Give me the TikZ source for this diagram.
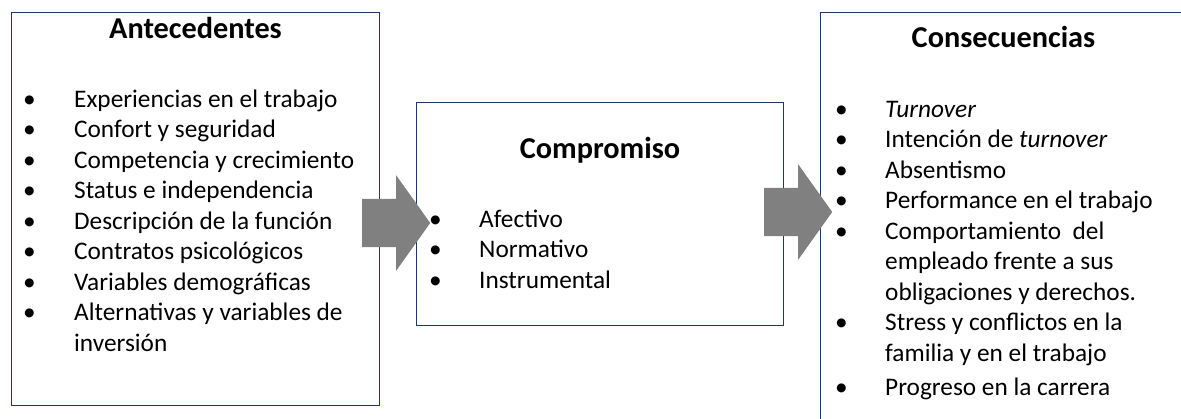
\documentclass[tikz,border=0pt]{standalone}
\usepackage{fontspec}
\setmainfont{Carlito}
\usetikzlibrary{positioning, calc, shapes.arrows}
\definecolor{boxblue}{RGB}{32,56,100}
\definecolor{arrowgray}{RGB}{128,128,128}
\tikzstyle{Box} = [
	rectangle,
	draw=boxblue,
	line width=1pt,
	inner sep=0pt,
	anchor=north west
	]
\tikzstyle{Title} = [inner sep=0pt, anchor=base, font=\fontsize{30.3}{36}\selectfont\bfseries]
\tikzstyle{List} = [inner sep=0pt, anchor=base west, font=\fontsize{25.3}{30.5}\selectfont]
\tikzstyle{BigArrow} = [
	single arrow,
	fill=arrowgray,
	inner xsep=0pt,
	inner ysep=24pt,
	minimum height=68pt,
	single arrow head extend=23.5pt,
	single arrow tip angle=109,
	anchor=tail
	]

\begin{document}
\begin{tikzpicture}[x=1pt, y=-1pt]
 \useasboundingbox (0,0) rectangle (1181,418);
 \clip (0,0) rectangle (1181,418);

 \node [Box, minimum width=368pt, minimum height=393pt] (ante) at (11,12) {};
 \node [Box, minimum width=367pt, minimum height=223pt] (comp) at (416,102) {};
 \node [Box, minimum width=366pt, minimum height=440pt] (cons) at (820,12) {};

 \node [Title] (anteT) at ($(ante.north)+(0,26)$) {Antecedentes};
 \node [Title] (compT) at ($(comp.north)+(0,56)$) {Compromiso};
 \node [Title] (consT) at ($(cons.north)+(0,35)$) {Consecuencias};

 \node [List] (anteL) at ($(ante.north west)+(12,95)$) {%
 \begin{tabular}[t]{@{}p{51pt}@{}l@{}}
 \textbullet & Experiencias en el trabajo\\
 \textbullet & Confort y seguridad\\
 \textbullet & Competencia y crecimiento\\
 \textbullet & Status e independencia\\
 \textbullet & Descripción de la función\\
 \textbullet & Contratos psicológicos\\
 \textbullet & Variables demográficas\\
 \textbullet & Alternativas y variables de\\
  & inversión
 \end{tabular}};

 \node [List] (compL) at ($(comp.north west)+(13,125)$) {%
 \begin{tabular}[t]{@{}p{50pt}@{}l@{}}
 \textbullet & Afectivo\\
 \textbullet & Normativo\\
 \textbullet & Instrumental
 \end{tabular}};

 \node [List] (consL) at ($(cons.north west)+(15,105)$) {%
 \begin{tabular}[t]{@{}p{50pt}@{}l@{}}
 \textbullet & \textit{Turnover}\\
 \textbullet & Intención de \textit{turnover}\\
 \textbullet & Absentismo\\
 \textbullet & Performance en el trabajo\\
 \textbullet & Comportamiento\ \ del\\
  & empleado frente a sus\\
  & obligaciones y derechos.\\
 \textbullet & Stress y conflictos en la\\
  & familia y en el trabajo\\[4pt]
 \textbullet & Progreso en la carrera
 \end{tabular}};

 % block arrows between the boxes
 \node [BigArrow] (arr1) at (362,223) {};
 \node [BigArrow] (arr2) at (764,212) {};

\end{tikzpicture}
\end{document}
